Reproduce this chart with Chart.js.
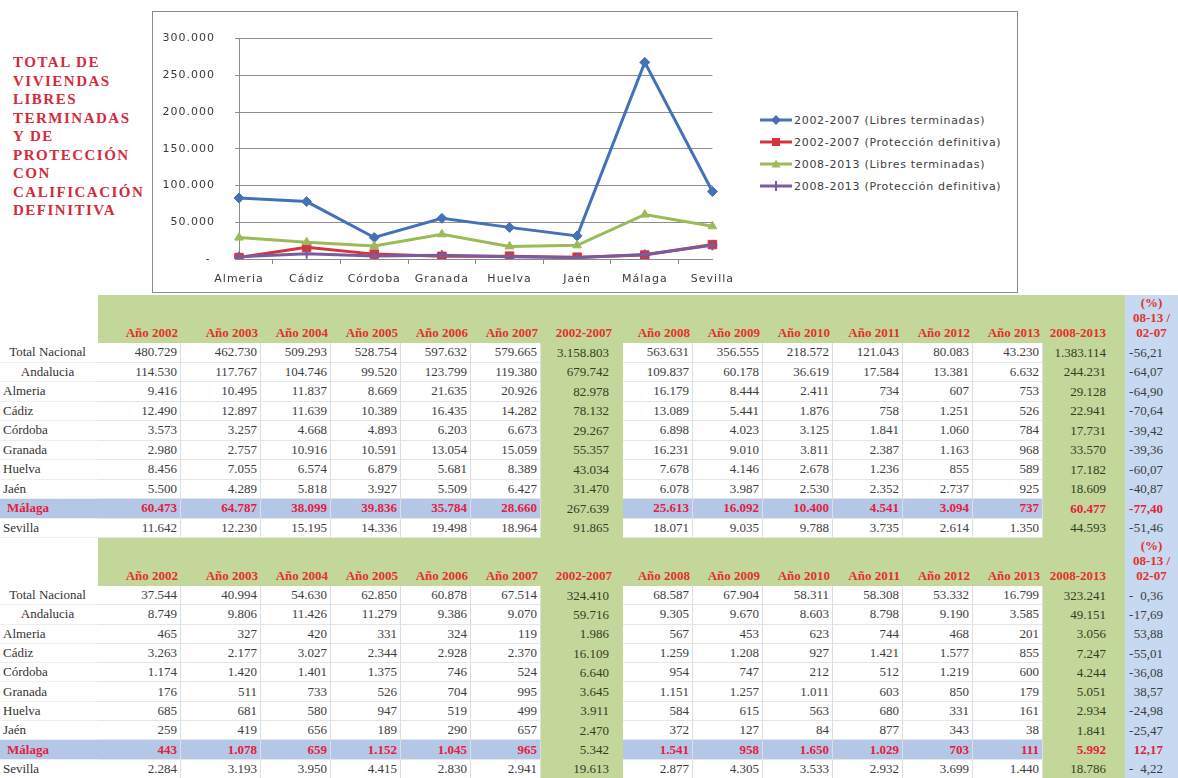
<!DOCTYPE html>
<html lang="es">
<head>
<meta charset="utf-8">
<title>Total de viviendas libres terminadas y de protección</title>
<script src="https://cdn.jsdelivr.net/npm/chart.js@4.4.1/dist/chart.umd.min.js"></script>
<style>
  html, body { margin: 0; padding: 0; background: #fff; }
  body { width: 1178px; height: 778px; position: relative; overflow: hidden; }
  #titulo {
    position: absolute; left: 13px; top: 53px;
    font: bold 15px/18.5px "Liberation Serif", "Times New Roman", serif;
    letter-spacing: 1.5px; color: #d42a3c;
  }
  #marco {
    position: absolute; left: 152px; top: 11px; width: 864px; height: 280px;
    border: 1px solid #8a8a8a; background: #fff;
  }
  #grafico { position: absolute; left: 0; top: 0; width: 590px; height: 280px; }
  #leyenda {
    position: absolute; left: 607px; top: 97px;
    font: 11px "DejaVu Sans", sans-serif; letter-spacing: 0.7px; color: #404040;
  }
  .ley { display: flex; align-items: center; height: 22px; white-space: nowrap; }
  .ley svg { margin-right: 2px; }

  #tablas {
    position: absolute; left: 0; top: 295px; width: 1178px;
    display: grid;
    grid-template-columns: 98px 83px 80px 70px 70px 70px 70px 82px 70px 70px 70px 70px 70px 70px 82px 53px;
    grid-template-rows: 48px repeat(10, 19.5px) 48px repeat(10, 19.3px);
    background: #c4d79b;
    font: 13px "Liberation Serif", "Times New Roman", serif; color: #3d3d3d;
  }
  .c { display: flex; align-items: center; justify-content: flex-end; padding-right: 3px;
       white-space: nowrap; box-sizing: border-box; overflow: hidden; }
  .blanca { background: #fff; border-right: 1px solid #dedede; border-bottom: 1px solid #e6e6e6; }
  .etq { background: #fff; justify-content: flex-start; padding-left: 3px; border-bottom: 1px solid #efefef; color: #333; }
  .etq.centro { justify-content: center; padding-left: 0; }
  .vacia { background: #fff; }
  .verde { padding-right: 14px; color: #323d1e; }
  .verde2 { padding-right: 19px; }
  .pct { background: #c6d9f1; justify-content: space-between; padding: 0 15px 0 4px; }
  .mal { background: #b4c7e7; color: #e3203c; font-weight: bold; }
  .etq.mal { padding-left: 7px; }
  .malv { color: #e3203c; font-weight: bold; }
  .cab { align-items: flex-end; padding-bottom: 3px; color: #e3302b; font-weight: bold; line-height: 14px; }
  .cab.verde { padding-right: 11px; }
  .cab.verde2 { padding-right: 19px; }
  .cabpct { background: #c6d9f1; display: flex; align-items: flex-end; justify-content: center;
            padding-bottom: 3px; box-sizing: border-box; color: #e3302b; font-weight: bold; }
  .cabpct div { line-height: 15px; text-align: center; }
</style>
</head>
<body>

<div id="titulo">TOTAL DE<br>VIVIENDAS<br>LIBRES<br>TERMINADAS<br>Y DE<br>PROTECCIÓN<br>CON<br>CALIFICACIÓN<br>DEFINITIVA</div>

<div id="marco">
  <div id="grafico"><canvas id="lineas"></canvas></div>
  <div id="leyenda"></div>
</div>

<div id="tablas"></div>

<script>
// Datos del gráfico (totales por periodo de cada provincia)
const provincias = ['Almeria', 'Cádiz', 'Córdoba', 'Granada', 'Huelva', 'Jaén', 'Málaga', 'Sevilla'];
const libres0207 = [82978, 78132, 29267, 55357, 43034, 31470, 267639, 91865];
const proteccion0207 = [1986, 16109, 6640, 3645, 3911, 2470, 5342, 19613];
const libres0813 = [29128, 22941, 17731, 33570, 17182, 18609, 60477, 44593];
const proteccion0813 = [3056, 7247, 4244, 5051, 2934, 1841, 5992, 18786];
const ejeY = { min: 0, max: 300000, paso: 50000 };

// Datos de las tablas
const columnas = ['Año 2002', 'Año 2003', 'Año 2004', 'Año 2005', 'Año 2006', 'Año 2007', '2002-2007',
  'Año 2008', 'Año 2009', 'Año 2010', 'Año 2011', 'Año 2012', 'Año 2013', '2008-2013'];
const filas = ['Total Nacional', 'Andalucia', 'Almeria', 'Cádiz', 'Córdoba', 'Granada', 'Huelva', 'Jaén', 'Málaga', 'Sevilla'];

const tablaLibres = [
  ['480.729', '462.730', '509.293', '528.754', '597.632', '579.665', '3.158.803', '563.631', '356.555', '218.572', '121.043', '80.083', '43.230', '1.383.114', '-56,21'],
  ['114.530', '117.767', '104.746', '99.520', '123.799', '119.380', '679.742', '109.837', '60.178', '36.619', '17.584', '13.381', '6.632', '244.231', '-64,07'],
  ['9.416', '10.495', '11.837', '8.669', '21.635', '20.926', '82.978', '16.179', '8.444', '2.411', '734', '607', '753', '29.128', '-64,90'],
  ['12.490', '12.897', '11.639', '10.389', '16.435', '14.282', '78.132', '13.089', '5.441', '1.876', '758', '1.251', '526', '22.941', '-70,64'],
  ['3.573', '3.257', '4.668', '4.893', '6.203', '6.673', '29.267', '6.898', '4.023', '3.125', '1.841', '1.060', '784', '17.731', '-39,42'],
  ['2.980', '2.757', '10.916', '10.591', '13.054', '15.059', '55.357', '16.231', '9.010', '3.811', '2.387', '1.163', '968', '33.570', '-39,36'],
  ['8.456', '7.055', '6.574', '6.879', '5.681', '8.389', '43.034', '7.678', '4.146', '2.678', '1.236', '855', '589', '17.182', '-60,07'],
  ['5.500', '4.289', '5.818', '3.927', '5.509', '6.427', '31.470', '6.078', '3.987', '2.530', '2.352', '2.737', '925', '18.609', '-40,87'],
  ['60.473', '64.787', '38.099', '39.836', '35.784', '28.660', '267.639', '25.613', '16.092', '10.400', '4.541', '3.094', '737', '60.477', '-77,40'],
  ['11.642', '12.230', '15.195', '14.336', '19.498', '18.964', '91.865', '18.071', '9.035', '9.788', '3.735', '2.614', '1.350', '44.593', '-51,46'],
];

const tablaProteccion = [
  ['37.544', '40.994', '54.630', '62.850', '60.878', '67.514', '324.410', '68.587', '67.904', '58.311', '58.308', '53.332', '16.799', '323.241', '-0,36'],
  ['8.749', '9.806', '11.426', '11.279', '9.386', '9.070', '59.716', '9.305', '9.670', '8.603', '8.798', '9.190', '3.585', '49.151', '-17,69'],
  ['465', '327', '420', '331', '324', '119', '1.986', '567', '453', '623', '744', '468', '201', '3.056', '53,88'],
  ['3.263', '2.177', '3.027', '2.344', '2.928', '2.370', '16.109', '1.259', '1.208', '927', '1.421', '1.577', '855', '7.247', '-55,01'],
  ['1.174', '1.420', '1.401', '1.375', '746', '524', '6.640', '954', '747', '212', '512', '1.219', '600', '4.244', '-36,08'],
  ['176', '511', '733', '526', '704', '995', '3.645', '1.151', '1.257', '1.011', '603', '850', '179', '5.051', '38,57'],
  ['685', '681', '580', '947', '519', '499', '3.911', '584', '615', '563', '680', '331', '161', '2.934', '-24,98'],
  ['259', '419', '656', '189', '290', '657', '2.470', '372', '127', '84', '877', '343', '38', '1.841', '-25,47'],
  ['443', '1.078', '659', '1.152', '1.045', '965', '5.342', '1.541', '958', '1.650', '1.029', '703', '111', '5.992', '12,17'],
  ['2.284', '3.193', '3.950', '4.415', '2.830', '2.941', '19.613', '2.877', '4.305', '3.533', '2.932', '3.699', '1.440', '18.786', '-4,22'],
];

// Series (estilo Excel 2007)
const nombresSerie = ['2002-2007 (Libres terminadas)', '2002-2007 (Protección definitiva)',
  '2008-2013 (Libres terminadas)', '2008-2013 (Protección definitiva)'];
const valoresSerie = [libres0207, proteccion0207, libres0813, proteccion0813];
const coloresSerie = ['#4472b6', '#d6343c', '#9bbb59', '#7a5c9e'];
const marcadores = ['rectRot', 'rect', 'triangle', 'cross'];
const radios = [5, 6, 5, 5];

// 300000 -> "300.000"
const miles = (v) => String(v).replace(/\B(?=(\d{3})+(?!\d))/g, '.');

// Espaciado entre letras como en el original
const espaciado = {
  id: 'espaciado',
  beforeLayout(chart) { chart.ctx.letterSpacing = '1px'; },
  beforeDraw(chart) { chart.ctx.letterSpacing = '1px'; },
};

const fuenteEje = { family: '"DejaVu Sans", sans-serif', size: 11 };

new Chart(document.getElementById('lineas'), {
  type: 'line',
  data: {
    labels: provincias,
    datasets: valoresSerie.map((vals, i) => ({
      label: nombresSerie[i],
      data: vals,
      borderColor: coloresSerie[i],
      backgroundColor: coloresSerie[i],
      pointBackgroundColor: coloresSerie[i],
      pointBorderColor: coloresSerie[i],
      pointStyle: marcadores[i],
      pointRadius: radios[i],
      pointBorderWidth: i === 3 ? 2 : 1,
      borderWidth: 3,
      tension: 0,
      order: 4 - i,
    })),
  },
  options: {
    responsive: true,
    maintainAspectRatio: false,
    animation: false,
    layout: { padding: { top: 13, right: 10, bottom: 0, left: 0 } },
    plugins: { legend: { display: false }, tooltip: { enabled: false } },
    scales: {
      x: {
        grid: { display: true, drawOnChartArea: false, drawTicks: true, tickLength: 5, offset: true, color: '#8a8a8a' },
        border: { display: true, color: '#8a8a8a' },
        ticks: { font: fuenteEje, color: '#3a3a3a', padding: 9, maxRotation: 0, autoSkip: false },
        afterFit: (scale) => { scale.height = 33; },
      },
      y: {
        min: ejeY.min,
        max: ejeY.max,
        grid: { color: '#8e8e8e', tickLength: 4 },
        border: { display: true, color: '#8a8a8a' },
        ticks: {
          stepSize: ejeY.paso,
          font: fuenteEje,
          color: '#3a3a3a',
          padding: 20,
          callback: (v) => (v === 0 ? '- ' : miles(v)),
        },
        afterFit: (scale) => { scale.width = 86; },
      },
    },
  },
  plugins: [espaciado],
});

// Leyenda con línea y marcador, como en Excel
function iconoMarcador(tipo, color) {
  if (tipo === 'rectRot') return `<polygon points="16,2 21,7 16,12 11,7" fill="${color}"/>`;
  if (tipo === 'rect') return `<rect x="12" y="3" width="8" height="8" fill="${color}"/>`;
  if (tipo === 'triangle') return `<polygon points="16,2.5 20.5,10.5 11.5,10.5" fill="${color}"/>`;
  return `<path d="M16 2 V12 M11 7 H21" stroke="${color}" stroke-width="2"/>`;
}
const leyenda = document.getElementById('leyenda');
nombresSerie.forEach((nombre, i) => {
  const fila = document.createElement('div');
  fila.className = 'ley';
  fila.innerHTML = `<svg width="32" height="14"><line x1="0" y1="7" x2="32" y2="7" stroke="${coloresSerie[i]}" stroke-width="3"/>` +
    iconoMarcador(marcadores[i], coloresSerie[i]) + `</svg><span>${nombre}</span>`;
  leyenda.appendChild(fila);
});

// Tablas
const tablas = document.getElementById('tablas');
function celda(html, clase) {
  const d = document.createElement('div');
  d.className = clase;
  d.innerHTML = html;
  tablas.appendChild(d);
}

function pintarTabla(datos) {
  celda('', 'vacia');
  columnas.forEach((col, i) => {
    const extra = i === 6 ? ' verde' : i === 13 ? ' verde2' : '';
    celda(col, 'c cab' + extra);
  });
  celda('<div>(%)<br>08-13 /<br>02-07</div>', 'cabpct');

  datos.forEach((fila, r) => {
    const malaga = filas[r] === 'Málaga';
    celda(filas[r], 'c etq' + (r < 2 ? ' centro' : '') + (malaga ? ' mal' : ''));
    fila.forEach((v, i) => {
      if (i === 14) {
        const signo = v.startsWith('-') ? '-' : '';
        celda(`<span>${signo}</span><span>${v.replace('-', '')}</span>`, 'c pct' + (malaga ? ' malv' : ''));
      } else if (i === 6) {
        celda(v, 'c verde');
      } else if (i === 13) {
        celda(v, 'c verde verde2' + (malaga ? ' malv' : ''));
      } else {
        celda(v, 'c blanca' + (malaga ? ' mal' : ''));
      }
    });
  });
}

pintarTabla(tablaLibres);
pintarTabla(tablaProteccion);
</script>
</body>
</html>
